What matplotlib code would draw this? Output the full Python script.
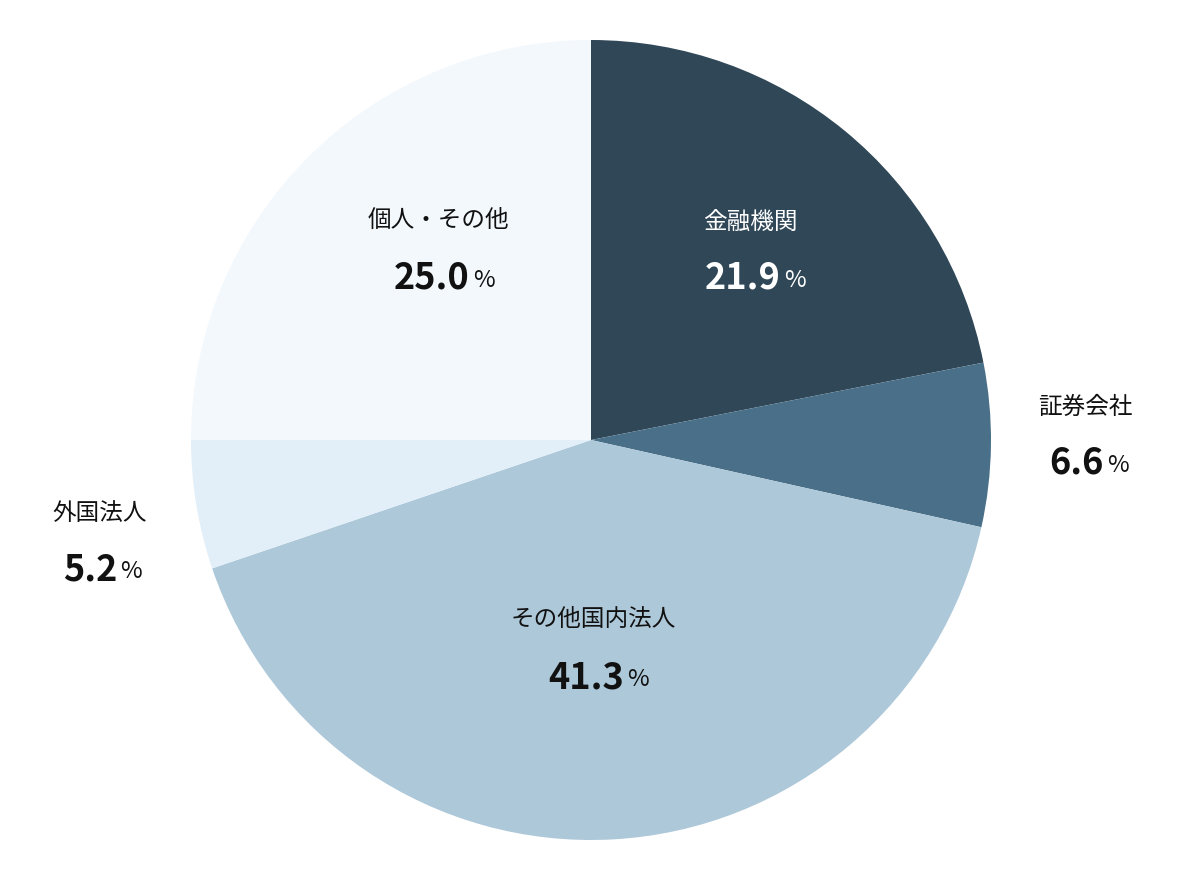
import matplotlib
matplotlib.use("Agg")
import matplotlib.pyplot as plt

plt.rcParams['font.family'] = ['Noto Sans CJK JP', 'DejaVu Sans']

labels = ["金融機関", "証券会社", "その他国内法人", "外国法人", "個人・その他"]
values = [21.9, 6.6, 41.3, 5.2, 25.0]
colors = ["#2f4757", "#4a7089", "#adc8d9", "#e2eff9", "#f3f8fd"]
text_colors = ["white", "#111111", "#111111", "#111111", "#111111"]
# label anchor positions in pixels: (name_x, name_y, split_x, value_y)
label_px = [(750, 222, 781, 278), (1085, 407, 1104, 463), (593, 620, 624, 678),
            (100, 513, 117, 570), (438, 220, 470, 278)]

fig = plt.figure(figsize=(11.8, 8.8), dpi=100)
ax = fig.add_axes([191/1180, 40/880, 800/1180, 800/880])
ax.pie(values, colors=colors, startangle=90, counterclock=False, radius=1,
       wedgeprops=dict(linewidth=0))
ax.set_xlim(-1, 1); ax.set_ylim(-1, 1); ax.set_aspect('equal')
ax.axis('off')

def to_data(px, py):
    return (px - 591) / 400, (440 - py) / 400

for lab, v, tc, (nx, ny, sx, vy) in zip(labels, values, text_colors, label_px):
    x, y = to_data(nx, ny)
    ax.text(x, y, lab, ha='center', va='center', fontsize=17, color=tc, clip_on=False)
    x2, y2 = to_data(sx, vy)
    ax.text(x2, y2, f"{v:.1f}", ha='right', va='center', fontsize=26, fontweight='bold',
            color=tc, clip_on=False)
    ax.text(x2 + 0.008, y2 - 0.005, "%", ha='left', va='center', fontsize=17, color=tc, clip_on=False)

fig.savefig("out.png", dpi=100)
